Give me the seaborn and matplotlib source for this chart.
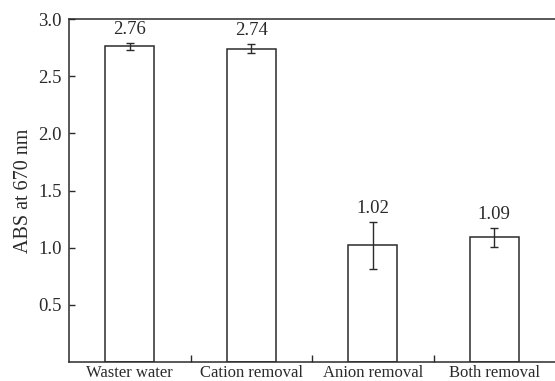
import numpy as np
import pandas as pd
import seaborn as sns
import matplotlib.pyplot as plt

categories = ["Waster water", "Cation removal", "Anion removal", "Both removal"]
abs_values = [2.76, 2.74, 1.02, 1.09]
abs_errors = [0.03, 0.04, 0.205, 0.08]
value_labels = ["2.76", "2.74", "1.02", "1.09"]

df = pd.DataFrame({"treatment": categories, "abs": abs_values, "err": abs_errors})

sns.set_style("ticks")
plt.rcParams["font.family"] = ["Liberation Serif", "DejaVu Serif"]
line_col = "#2b2b2b"
text_col = "#2a2a2a"

fig = plt.figure(figsize=(5.55, 3.81), dpi=100)
ax = fig.add_axes([69 / 555, 19 / 381, 486 / 555, 343 / 381])

sns.barplot(data=df, x="treatment", y="abs", width=0.4, color="white",
            edgecolor=line_col, linewidth=1.1, ax=ax)
ax.errorbar(np.arange(len(categories)), df["abs"], yerr=df["err"], fmt="none",
            ecolor=line_col, elinewidth=1.0, capsize=3, capthick=1.0)

for i, (v, e, lab) in enumerate(zip(abs_values, abs_errors, value_labels)):
    ax.text(i, v + e + 0.045, lab, ha="center", va="bottom", fontsize=13.5, color=text_col)

ax.set_xlim(-0.5, 3.5)
ax.set_ylim(0, 3.0)
ax.set_yticks([0.5, 1.0, 1.5, 2.0, 2.5, 3.0])
ax.set_yticklabels(["0.5", "1.0", "1.5", "2.0", "2.5", "3.0"])
ax.set_xticks(range(len(categories)))
ax.set_xticklabels(categories)
ax.set_xticks([0.5, 1.5, 2.5], minor=True)
ax.tick_params(axis="x", which="major", length=0, labelsize=12, pad=2, colors=text_col)
ax.tick_params(axis="x", which="minor", direction="in", length=5, width=1.0, color=line_col)
ax.tick_params(axis="y", direction="in", length=4, width=1.0, labelsize=13.5,
               color=line_col, labelcolor=text_col, pad=5)
ax.set_xlabel("")
ax.set_ylabel("ABS at 670 nm", fontsize=14.5, color=text_col, labelpad=4)

for side in ["left", "bottom", "top"]:
    ax.spines[side].set_visible(True)
    ax.spines[side].set_color(line_col)
    ax.spines[side].set_linewidth(1.1)
ax.spines["right"].set_visible(False)

fig.savefig("out.png", dpi=100)
